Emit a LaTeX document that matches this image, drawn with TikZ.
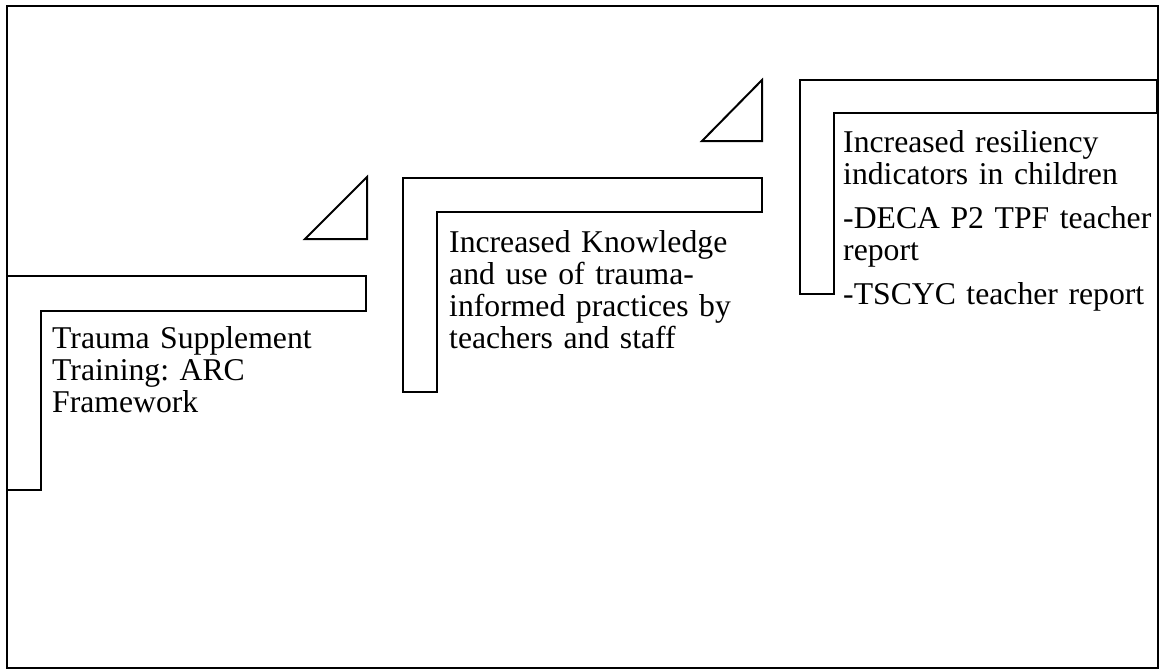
\documentclass[tikz,border=0pt]{standalone}
\usepackage{fontspec}
\setmainfont{Liberation Serif}
\frenchspacing
\begin{document}
\begin{tikzpicture}[x=1pt,y=-1pt,
  outline/.style={draw=black,line width=2pt,line join=miter},
  label/.style={anchor=base west,inner sep=0pt,align=left,text width=330pt,
    font=\fontsize{31.7}{32}\selectfont}]
\useasboundingbox (0,0) rectangle (1161,670);
% outer frame
\draw[outline] (7,6) rectangle (1158,668);
% step 1: corner bracket
\draw[outline] (7,276) -- (366,276) -- (366,311) -- (41,311) -- (41,490) -- (7,490) -- cycle;
% arrow-head triangle between steps 1 and 2
\draw[outline] (367,177) -- (367,239) -- (305,239) -- cycle;
% step 2: corner bracket
\draw[outline] (403,178) -- (762,178) -- (762,212) -- (437,212) -- (437,392) -- (403,392) -- cycle;
% arrow-head triangle between steps 2 and 3
\draw[outline] (762,80) -- (762,141) -- (702,141) -- cycle;
% step 3: corner bracket
\draw[outline] (800,80) -- (1157,80) -- (1157,113) -- (834,113) -- (834,294) -- (800,294) -- cycle;
% step texts
\node[label] (s1) at (52,348) {Trauma Supplement\\Training: ARC\\Framework};
\node[label] (s2) at (449,252) {Increased Knowledge\\and use of trauma-\\informed practices by\\teachers and staff};
\node[label] (s3) at (843,152) {Increased resiliency\\indicators in children\\[12pt]-DECA P2 TPF teacher\\report\\[12pt]-TSCYC teacher report};
\end{tikzpicture}
\end{document}
